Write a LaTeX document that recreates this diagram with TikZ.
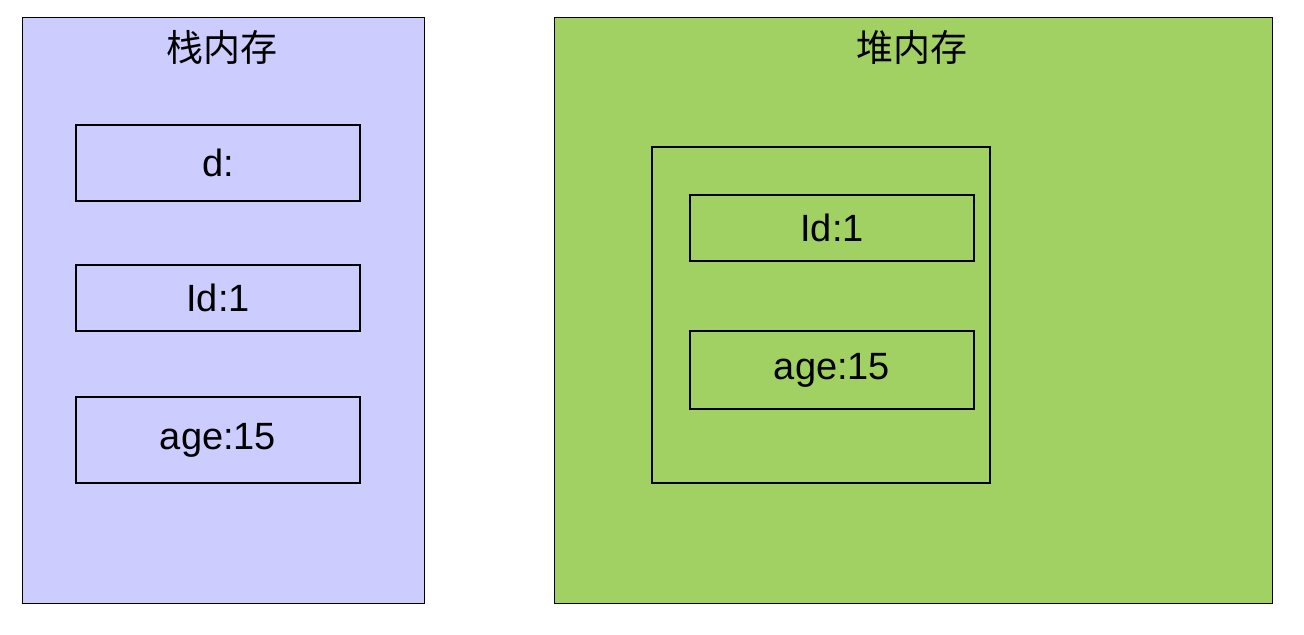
\documentclass[tikz,border=0pt]{standalone}
\usepackage{fontspec}
\setmainfont{Liberation Sans}
\newfontfamily\cjk{Noto Sans CJK SC}
\usepackage{tikz}
\usetikzlibrary{positioning}

\definecolor{stackblue}{RGB}{204,204,255}
\definecolor{heapgreen}{RGB}{161,208,99}

\begin{document}
\begin{tikzpicture}[x=0.5pt,y=-0.5pt,
  area/.style={draw=black,line width=0.5pt},
  cell/.style={draw=black,line width=0.65pt,minimum width=142pt,
    inner sep=0pt,font=\fontsize{19}{19}\selectfont},
  title/.style={font=\cjk\fontsize{18.5}{18.5}\selectfont}]
  \useasboundingbox (0,0) rectangle (1304,634);
  % stack memory
  \filldraw[area,fill=stackblue]
    (22,17)
    rectangle
    (424,603);
  \node[title] (stack) at (222,47) {栈内存};
  \node[cell,minimum height=38pt] (sd) at (218,163) {d:};
  \node[cell,minimum height=33pt] (sid) at (218,298) {Id:1};
  \node[cell,minimum height=43pt] (sage) at (218,440) {age:15};
  % heap memory
  \filldraw[area,fill=heapgreen]
    (554,17)
    rectangle
    (1272,603);
  \node[title] (heap) at (912,47) {堆内存};
  \draw[area,line width=0.65pt]
    (652,147)
    rectangle
    (990,483);
  \node[cell,minimum height=33pt] (hid) at (832,228) {Id:1};
  \node[cell,minimum height=39pt] (hage) at (832,370) {age:15};
\end{tikzpicture}
\end{document}
